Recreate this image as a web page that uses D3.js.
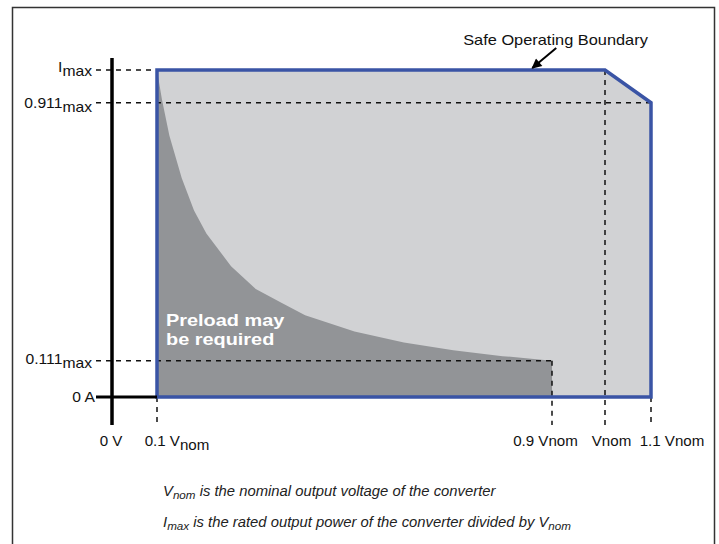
<!DOCTYPE html>
<html>
<head>
<meta charset="utf-8">
<script src="https://cdn.jsdelivr.net/npm/d3@7"></script>
<style>
  body { margin: 0; background: #fff; }
  text { font-family: "Liberation Sans", Arial, Helvetica, sans-serif; }
</style>
</head>
<body>
<div id="chart"></div>
<script>
// axis ticks (voltage as fraction of Vnom, current as fraction of Imax)
let xTicks = [0, 0.1, 0.9, 1, 1.1];
let xTickLabels = [["0 V"], ["0.1 V", "nom"], ["0.9 Vnom"], ["Vnom"], ["1.1 Vnom"]];
let yTicks = [0, 0.111, 0.9, 1];
let yTickLabels = [["0 A"], ["0.111", "max"], ["0.911", "max"], ["I", "max"]];

// safe operating boundary corners
let boundaryV = [0.1, 0.1, 1, 1.1, 1.1];
let boundaryI = [0, 1, 1, 0.9, 0];

// preload curve
let preloadV = [0.1, 0.11, 0.125, 0.15, 0.175, 0.2, 0.25, 0.3, 0.35, 0.4, 0.5, 0.6, 0.7, 0.8, 0.9];
let preloadI = [1.0, 0.91, 0.8, 0.67, 0.57, 0.5, 0.4, 0.33, 0.29, 0.25, 0.2, 0.167, 0.143, 0.125, 0.111];

let notes = [
  ["V", "nom", " is the nominal output voltage of the converter"],
  ["I", "max", " is the rated output power of the converter divided by V", "nom"]
];

let width = 719;
let height = 544;

let x = d3.scaleLinear().domain(xTicks).range([112, 157, 552, 605, 651]);
let y = d3.scaleLinear().domain([0, 1]).range([397, 70]);

let svg = d3.select("#chart").append("svg")
  .attr("width", width)
  .attr("height", height);

// outer frame
svg.append("rect")
  .attr("x", 12.5).attr("y", 7.5)
  .attr("width", 702).attr("height", 560)
  .attr("fill", "none")
  .attr("stroke", "#333")
  .attr("stroke-width", 1.5);

let boundary = boundaryV.map((v, i) => [x(v), y(boundaryI[i])]);
let preload = preloadV.map((v, i) => [x(v), y(preloadI[i])]);

svg.append("path")
  .attr("d", d3.line()(boundary) + "Z")
  .attr("fill", "#d1d2d4");

svg.append("path")
  .attr("d", d3.area().x(d => d[0]).y0(y(0)).y1(d => d[1])(preload))
  .attr("fill", "#929497");

// dashed guides
let dash = svg.append("g")
  .attr("stroke", "#111")
  .attr("stroke-width", 1.5)
  .attr("stroke-dasharray", "5,5");

let hGuideTo = [null, 0.9, 1.1, 0.1];
yTicks.forEach((t, i) => {
  if (hGuideTo[i] == null) return;
  dash.append("line")
    .attr("x1", 96).attr("x2", x(hGuideTo[i]))
    .attr("y1", y(t)).attr("y2", y(t));
});

let vGuideFrom = [null, 0, 0.111, 1, 0];
xTicks.forEach((t, i) => {
  if (vGuideFrom[i] == null) return;
  dash.append("line")
    .attr("x1", x(t)).attr("x2", x(t))
    .attr("y1", y(vGuideFrom[i])).attr("y2", 425);
});

// blue boundary
svg.append("path")
  .attr("d", d3.line()(boundary) + "Z")
  .attr("fill", "none")
  .attr("stroke", "#3a54a5")
  .attr("stroke-width", 3.5)
  .attr("stroke-linejoin", "miter");

// axes
svg.append("line")
  .attr("x1", x(0)).attr("x2", x(0))
  .attr("y1", 58).attr("y2", 425)
  .attr("stroke", "#000").attr("stroke-width", 3.5);
svg.append("line")
  .attr("x1", 96).attr("x2", x(0.1))
  .attr("y1", y(0)).attr("y2", y(0))
  .attr("stroke", "#000").attr("stroke-width", 3);

function addText(parent, px, py, parts, o) {
  let t = parent.append("text")
    .attr("transform", `translate(${px},${py}) scale(${o.sx || 1},1)`)
    .attr("text-anchor", o.anchor || "start")
    .attr("font-size", o.size || 14)
    .attr("fill", o.fill || "#111")
    .attr("font-style", o.italic ? "italic" : null)
    .attr("font-weight", o.bold ? "bold" : null);
  parts.forEach((p, i) => {
    let sub = i % 2 == 1;
    let s = t.append("tspan").text(p);
    if (sub) s.attr("dy", o.subDy).attr("font-size", o.subSize || o.size || 14);
    else if (i > 0) s.attr("dy", -o.subDy);
  });
  return t;
}

// y tick labels
let yLabelEnd = [95, 92, 92, 92];
let yLabelDy = [5, 3, 5, 2];
yTicks.forEach((t, i) => {
  addText(svg, yLabelEnd[i], y(t) + yLabelDy[i], yTickLabels[i],
    {anchor: "end", sx: 1.12, subDy: 4});
});

// x tick labels
let xLabelShift = [-1, 20, -6.5, 6.5, 21];
xTicks.forEach((t, i) => {
  addText(svg, x(t) + xLabelShift[i], 446, xTickLabels[i],
    {anchor: "middle", sx: 1.08, subDy: 4});
});

// preload label
addText(svg, 166, 326, ["Preload may"], {size: 17, bold: true, fill: "#fff", sx: 1.17});
addText(svg, 166, 345, ["be required"], {size: 17, bold: true, fill: "#fff", sx: 1.17});

// annotation
addText(svg, 555.5, 45, ["Safe Operating Boundary"], {anchor: "middle", sx: 1.17});

svg.append("defs").append("marker")
  .attr("id", "head")
  .attr("viewBox", "0 0 10 10")
  .attr("refX", 9).attr("refY", 5)
  .attr("markerWidth", 5.5).attr("markerHeight", 5)
  .attr("orient", "auto")
  .append("path")
  .attr("d", "M0,0L10,5L0,10Z")
  .attr("fill", "#000");

svg.append("line")
  .attr("x1", x(0.86) + 24).attr("y1", y(1) - 22)
  .attr("x2", x(0.86)).attr("y2", y(1) - 2)
  .attr("stroke", "#000")
  .attr("stroke-width", 2)
  .attr("marker-end", "url(#head)");

// notes under the chart
notes.forEach((n, i) => {
  addText(svg, 163, 496 + i * 31, n,
    {italic: true, sx: 1.06, subDy: 3, subSize: 11, fill: "#222"});
});
</script>
</body>
</html>
